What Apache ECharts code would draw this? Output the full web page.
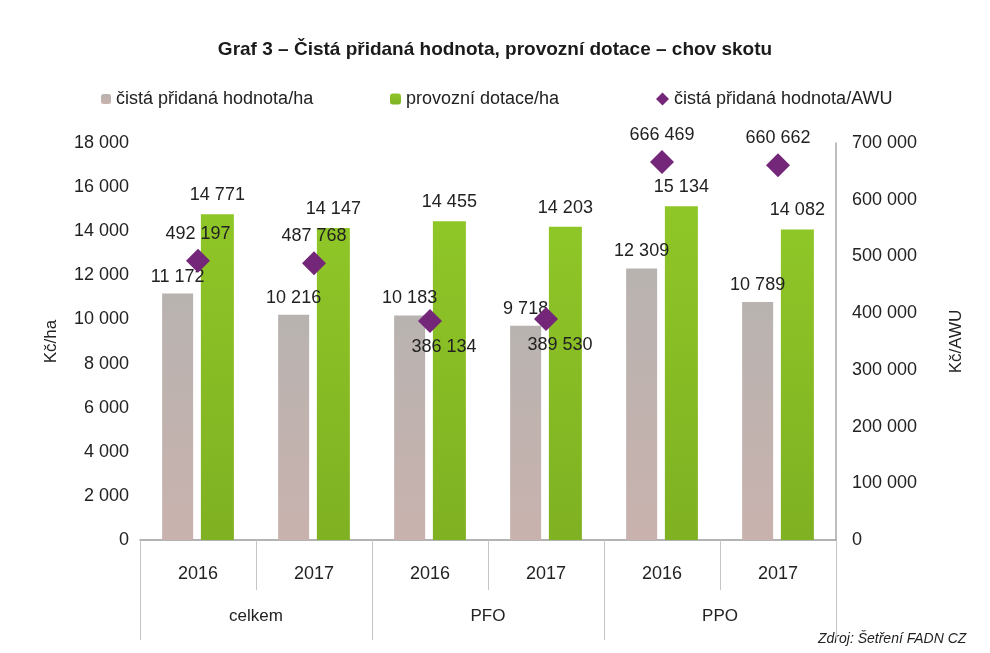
<!DOCTYPE html>
<html lang="cs">
<head>
<meta charset="UTF-8">
<title>Graf 3</title>
<style>
  html, body { margin: 0; padding: 0; background: #fff; }
  #main { width: 990px; height: 653px; }
</style>
</head>
<body>
<div id="main"></div>
<script src="https://cdn.jsdelivr.net/npm/echarts@6/dist/echarts.min.js"></script>
<script>
// data
var years = ['2016', '2017', '2016', '2017', '2016', '2017'];
var groups = ['celkem', 'PFO', 'PPO'];
var cphHa = [11172, 10216, 10183, 9718, 12309, 10789];
var dotaceHa = [14771, 14147, 14455, 14203, 15134, 14082];
var cphAwu = [492197, 487768, 386134, 389530, 666469, 660662];
// label above (top) or below (bottom) the diamond
var awuLabelPos = ['top', 'top', 'bottom', 'bottom', 'top', 'top'];

var font = '"Liberation Sans", Arial, sans-serif';
var txt = '#222';

function fmt(v) {
  return String(v).replace(/\B(?=(\d{3})+(?!\d))/g, ' ');
}

var chart = echarts.init(document.getElementById('main'));

var awuData = cphAwu.map(function (v, i) {
  var below = awuLabelPos[i] === 'bottom';
  return {
    value: v,
    label: {
      position: awuLabelPos[i],
      offset: below ? [14, 0] : [0, -1]
    }
  };
});

chart.setOption({
  textStyle: { fontFamily: font },
  title: {
    text: 'Graf 3 – Čistá přidaná hodnota, provozní dotace – chov skotu',
    left: 'center',
    top: 35,
    textStyle: {
      fontFamily: font,
      fontWeight: 'bold',
      fontSize: 19,
      color: '#1a1a1a'
    }
  },
  legend: [
    {
      data: ['čistá přidaná hodnota/ha'],
      left: 96, top: 85,
      itemWidth: 10, itemHeight: 10, itemGap: 4,
      textStyle: { fontSize: 18, color: txt }
    },
    {
      data: ['provozní dotace/ha'],
      left: 385, top: 85,
      itemWidth: 11, itemHeight: 11,
      textStyle: { fontSize: 18, color: txt }
    },
    {
      data: [{ name: 'čistá přidaná hodnota/AWU', icon: 'diamond' }],
      left: 651, top: 85,
      itemWidth: 13, itemHeight: 13,
      textStyle: { fontSize: 18, color: txt }
    }
  ],
  grid: { left: 140, right: 154, top: 143, bottom: 113 },
  xAxis: [
    {
      type: 'category',
      data: years,
      position: 'bottom',
      axisLine: { lineStyle: { color: '#9a9a9a', width: 1.5 } },
      axisTick: { show: true, interval: 0, length: 50, lineStyle: { color: '#c4c4c4' } },
      axisLabel: { fontSize: 18, color: txt, margin: 25 }
    },
    {
      // group level: long ticks at group boundaries, labels below the years
      type: 'category',
      data: groups,
      position: 'bottom',
      axisLine: { show: false },
      axisTick: { show: true, inside: false, interval: 0, length: 100, lineStyle: { color: '#c4c4c4' } },
      axisLabel: { fontSize: 17, color: txt, margin: 68 }
    }
  ],
  yAxis: [
    {
      type: 'value',
      min: 0, max: 18000, interval: 2000,
      name: 'Kč/ha',
      nameLocation: 'middle',
      nameRotate: 90,
      nameGap: 80,
      nameTextStyle: { fontSize: 17, color: txt },
      axisLine: { show: false },
      axisTick: { show: false },
      splitLine: { show: false },
      axisLabel: { fontSize: 18, color: txt, margin: 11, formatter: fmt }
    },
    {
      type: 'value',
      min: 0, max: 700000, interval: 100000,
      position: 'right',
      name: 'Kč/AWU',
      nameLocation: 'middle',
      nameRotate: 90,
      nameGap: 112,
      nameTextStyle: { fontSize: 17, color: txt },
      axisLine: { show: true, lineStyle: { color: '#a8a8a8', width: 1.5 } },
      axisTick: { show: false },
      splitLine: { show: false },
      axisLabel: { fontSize: 18, color: txt, margin: 16, formatter: fmt }
    }
  ],
  series: [
    {
      name: 'čistá přidaná hodnota/ha',
      type: 'bar',
      data: cphHa,
      barWidth: 31,
      barGap: '25%',
      itemStyle: {
        color: new echarts.graphic.LinearGradient(0, 0, 0, 1, [
          { offset: 0, color: '#b8b3b0' },
          { offset: 1, color: '#c9b2ae' }
        ])
      },
      label: {
        show: true, position: 'top', distance: 8,
        fontSize: 18, color: txt,
        formatter: function (p) { return fmt(p.value); }
      }
    },
    {
      name: 'provozní dotace/ha',
      type: 'bar',
      data: dotaceHa,
      barWidth: 33,
      itemStyle: {
        color: new echarts.graphic.LinearGradient(0, 0, 0, 1, [
          { offset: 0, color: '#8fc627' },
          { offset: 1, color: '#7fb122' }
        ])
      },
      label: {
        show: true, position: 'top', distance: 10,
        fontSize: 18, color: txt,
        formatter: function (p) { return fmt(p.value); }
      }
    },
    {
      name: 'čistá přidaná hodnota/AWU',
      type: 'scatter',
      yAxisIndex: 1,
      data: awuData,
      symbol: 'diamond',
      symbolSize: 24,
      z: 5,
      itemStyle: { color: '#742678', opacity: 1 },
      label: {
        show: true,
        fontSize: 18, color: txt,
        formatter: function (p) { return fmt(p.value); }
      }
    }
  ],
  graphic: [
    {
      type: 'text',
      left: 818, top: 632,
      style: {
        text: 'Zdroj: Šetření FADN CZ',
        font: 'italic 14px "Liberation Sans", Arial, sans-serif',
        fill: '#222'
      }
    }
  ]
});
</script>
</body>
</html>
